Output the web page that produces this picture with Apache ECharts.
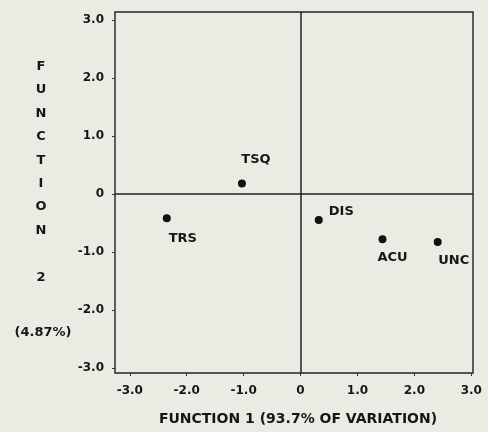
<!DOCTYPE html>
<html>
<head>
<meta charset="utf-8">
<script src="https://cdn.jsdelivr.net/npm/echarts@6/dist/echarts.min.js"></script>
<style>
html,body{margin:0;padding:0;background:#ecebe3;}
#chart{width:488px;height:432px;}
</style>
</head>
<body>
<div id="chart"></div>
<script>
// Data
var groups = ['TSQ', 'TRS', 'DIS', 'ACU', 'UNC'];
var function1 = [-1.03, -2.35, 0.32, 1.44, 2.41];
var function2 = [0.18, -0.42, -0.45, -0.78, -0.83];
var tickValues = [-3, -2, -1, 0, 1, 2, 3];
var xTitle = 'FUNCTION 1 (93.7% OF VARIATION)';
var yTitle = 'F\nU\nN\nC\nT\nI\nO\nN\n\n2';
var yTitleSub = '(4.87%)';

// label placement per group (style, not data)
var labelPlace = {
  TSQ: {position: 'top', offset: [14, -8]},
  TRS: {position: 'bottom', offset: [16, 5]},
  DIS: {position: 'right', offset: [1, -8]},
  ACU: {position: 'bottom', offset: [10, 3]},
  UNC: {position: 'bottom', offset: [16, 3]}
};

var fontFam = '"DejaVu Sans", Verdana, sans-serif';
var ink = '#161616';

var points = groups.map(function (g, i) {
  return {
    name: g,
    value: [function1[i], function2[i]],
    label: {
      show: true,
      formatter: g,
      position: labelPlace[g].position,
      offset: labelPlace[g].offset,
      color: ink,
      fontSize: 13,
      fontWeight: 'bold',
      fontFamily: fontFam
    }
  };
});

function fmt(v) { return v === 0 ? '0' : v.toFixed(1); }

var chart = echarts.init(document.getElementById('chart'));
chart.setOption({
  backgroundColor: '#ecebe3',
  animation: false,
  grid: {
    left: 115, right: 15, top: 12, bottom: 59,
    show: true, borderColor: '#222', borderWidth: 1.4, backgroundColor: 'transparent'
  },
  xAxis: {
    type: 'value', min: -3.26, max: 3.03,
    splitLine: {show: false},
    axisLine: {show: false, onZero: false},
    axisTick: {show: true, inside: false, length: 3, customValues: tickValues, lineStyle: {color: '#333'}},
    axisLabel: {customValues: tickValues, formatter: fmt, color: ink, fontSize: 12, fontWeight: 'bold', fontFamily: fontFam, margin: 12}
  },
  yAxis: {
    type: 'value', min: -3.09, max: 3.14,
    splitLine: {show: false},
    axisLine: {show: false, onZero: false},
    axisTick: {show: true, inside: false, length: 3, customValues: tickValues, lineStyle: {color: '#333'}},
    axisLabel: {customValues: tickValues, formatter: fmt, color: ink, fontSize: 12, fontWeight: 'bold', fontFamily: fontFam, margin: 11}
  },
  graphic: [
    {type: 'text', style: {text: xTitle, x: 298, y: 412, fill: ink, font: 'bold 14px ' + fontFam, align: 'center'}},
    {type: 'text', style: {text: yTitle, x: 41, y: 55, fill: ink, font: 'bold 13px ' + fontFam, align: 'center', lineHeight: 23.4}},
    {type: 'text', style: {text: yTitleSub, x: 43, y: 326, fill: ink, font: 'bold 13px ' + fontFam, align: 'center'}}
  ],
  series: [{
    type: 'scatter',
    symbolSize: 8,
    itemStyle: {color: '#111', opacity: 1},
    data: points,
    markLine: {
      silent: true,
      symbol: 'none',
      label: {show: false},
      lineStyle: {color: '#222', width: 1.5, type: 'solid'},
      data: [{xAxis: 0}, {yAxis: 0}]
    }
  }]
});
</script>
</body>
</html>
